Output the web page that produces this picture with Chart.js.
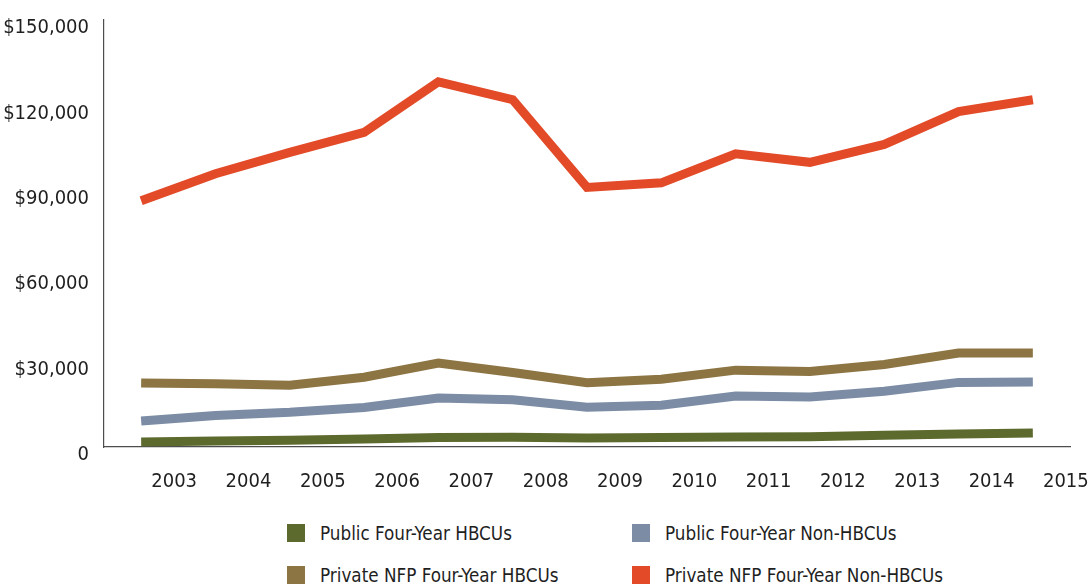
<!DOCTYPE html>
<html>
<head>
<meta charset="utf-8">
<script src="https://cdn.jsdelivr.net/npm/chart.js@4/dist/chart.umd.min.js"></script>
<style>
  body { margin: 0; background: #fff; }
  #wrap { position: relative; width: 1089px; height: 586px; overflow: hidden; }
  #chart { position: absolute; left: 0; top: 0; }
  .legend-item { position: absolute; height: 20px; display: flex; align-items: center;
    font-family: 'Liberation Sans Narrow', 'DejaVu Sans Condensed', sans-serif; font-size: 18.7px; color: #1f1f1f; white-space: nowrap; }
  .legend-item span.box { width: 18px; height: 18px; margin-right: 15px; display: inline-block; }
</style>
</head>
<body>
<div id="wrap">
  <canvas id="chart" width="1089" height="500"></canvas>
</div>
<script>
const years = ['2003', '2004', '2005', '2006', '2007', '2008', '2009', '2010', '2011', '2012', '2013', '2014', '2015'];
const yTickLabels = ['0', '$30,000', '$60,000', '$90,000', '$120,000', '$150,000'];

const publicHbcu = [1800, 2100, 2400, 2800, 3300, 3400, 3200, 3300, 3500, 3600, 4100, 4600, 4900];
const publicNonHbcu = [9100, 11100, 12200, 13900, 17200, 16600, 14000, 14700, 17900, 17600, 19600, 22700, 22800];
const privateHbcu = [22500, 22200, 21700, 24500, 29500, 26200, 22600, 23800, 27000, 26500, 29000, 33000, 33000];
const privateNonHbcu = [86500, 96000, 103500, 110500, 128300, 122000, 91200, 92800, 103000, 100000, 106300, 117800, 122000];

const seriesNames = ['Public Four-Year HBCUs', 'Public Four-Year Non-HBCUs', 'Private NFP Four-Year HBCUs', 'Private NFP Four-Year Non-HBCUs'];
const seriesColors = ['#5d6a2e', '#7b8ca4', '#8c7443', '#e24a28'];
const seriesData = [publicHbcu, publicNonHbcu, privateHbcu, privateNonHbcu];

const tickFont = { family: "'Liberation Sans Narrow', 'DejaVu Sans Condensed', sans-serif", size: 20 };

new Chart(document.getElementById('chart'), {
    type: 'line',
    data: {
        labels: years,
        datasets: seriesData.map((d, i) => ({
            label: seriesNames[i],
            data: d,
            borderColor: seriesColors[i],
            backgroundColor: seriesColors[i],
            borderWidth: 9,
            borderCapStyle: 'butt',
            tension: 0,
            pointRadius: 0,
            fill: false
        }))
    },
    options: {
        responsive: false,
        animation: false,
        layout: { padding: { top: 20, right: 19, left: 0, bottom: 0 } },
        scales: {
            x: {
                offset: true,
                grid: { display: false, drawTicks: false },
                border: { display: true, color: '#4d4d4d', width: 1.2 },
                ticks: {
                    font: tickFont,
                    color: '#1f1f1f',
                    padding: 23,
                    labelOffset: 33,
                    maxRotation: 0,
                    autoSkip: false
                },
                afterFit: s => { s.height = 53; s.paddingLeft = 0; s.paddingRight = 0; }
            },
            y: {
                min: 0,
                max: 150000,
                grid: { display: false, drawTicks: false },
                border: { display: true, color: '#4d4d4d', width: 1.2 },
                ticks: {
                    stepSize: 30000,
                    font: tickFont,
                    color: '#1f1f1f',
                    padding: 15,
                    labelOffset: 8,
                    callback: v => yTickLabels[v / 30000]
                },
                afterFit: s => { s.width = 104; s.paddingTop = 0; s.paddingBottom = 0; }
            }
        },
        plugins: {
            legend: { display: false },
            tooltip: { enabled: false }
        }
    }
});

// legend in two columns, like the original
const legendPos = [[287, 523], [632, 523], [287, 565], [632, 565]];
const wrap = document.getElementById('wrap');
seriesNames.forEach((name, i) => {
    const item = document.createElement('div');
    item.className = 'legend-item';
    item.style.left = legendPos[i][0] + 'px';
    item.style.top = legendPos[i][1] + 'px';
    item.innerHTML = '<span class="box" style="background:' + seriesColors[i] + '"></span>' + name;
    wrap.appendChild(item);
});
</script>
</body>
</html>
